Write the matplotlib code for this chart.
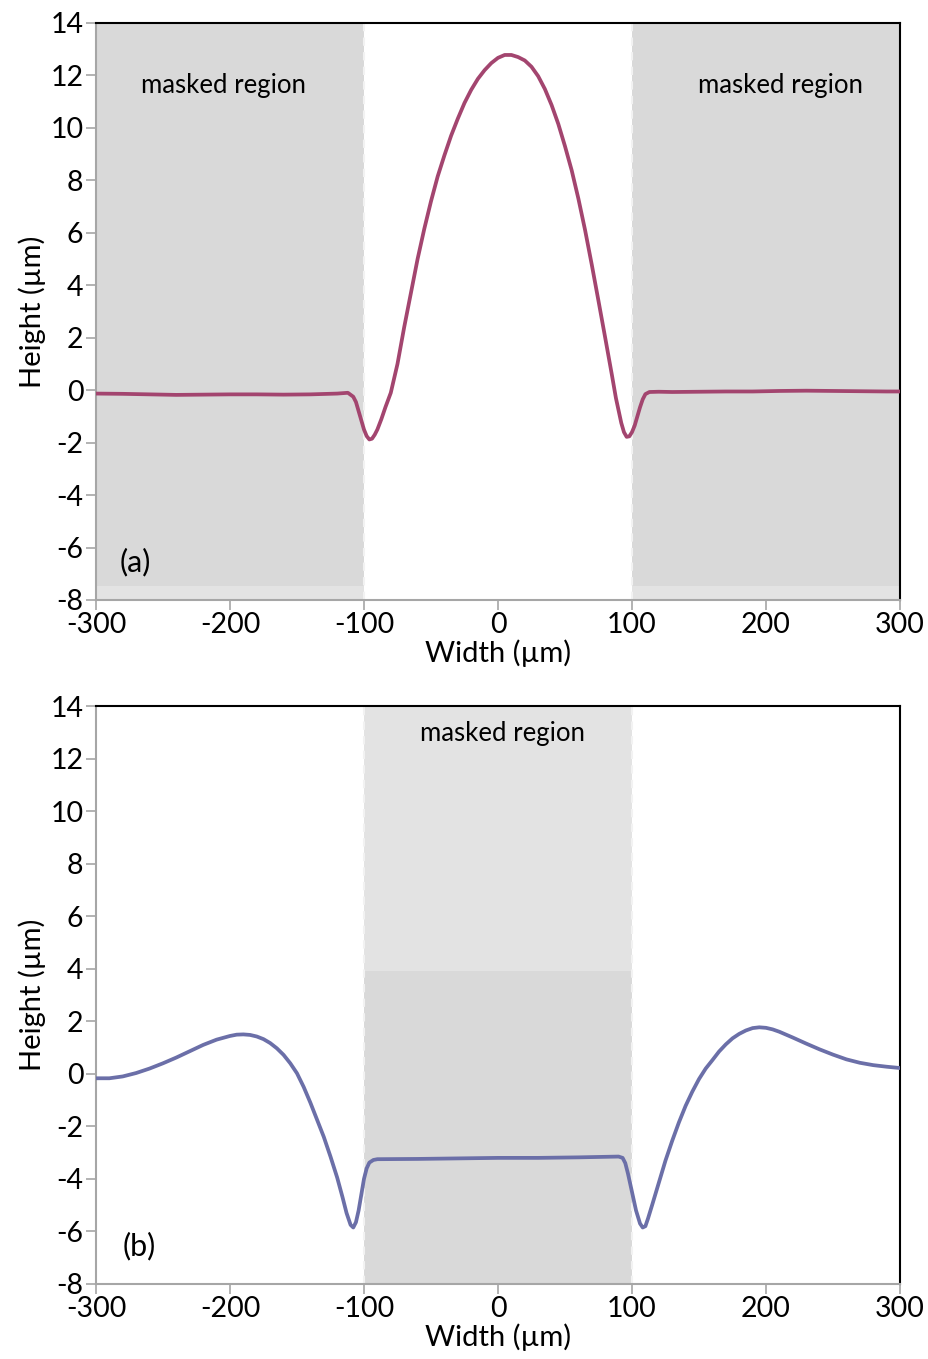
import matplotlib
matplotlib.use("Agg")
import matplotlib.pyplot as plt

plt.rcParams['font.family'] = ['Lato', 'DejaVu Sans']

# ---- data (a) ----
xa = [-300, -280, -260, -240, -220, -200, -180, -160, -140, -120, -112, -108, -106, -104, -102,
      -100, -98, -96, -94, -92, -90, -87, -84, -80, -75, -70, -65, -60, -55, -50, -45, -40, -35,
      -30, -25, -20, -15, -10, -5, 0, 5, 10, 15, 20, 25, 30, 35, 40, 45, 50, 55, 60, 65, 70, 75,
      80, 85, 88, 92, 94, 96, 98, 100, 102, 104, 106, 108, 110, 113, 120, 130, 150, 170, 190,
      210, 230, 250, 270, 290, 300]
ya = [-0.13, -0.14, -0.16, -0.18, -0.17, -0.16, -0.16, -0.17, -0.16, -0.13, -0.10, -0.25, -0.45,
      -0.8, -1.15, -1.5, -1.75, -1.88, -1.85, -1.7, -1.5, -1.1, -0.65, -0.1, 1.0, 2.4, 3.7, 5.0,
      6.15, 7.2, 8.15, 8.95, 9.7, 10.35, 10.95, 11.45, 11.87, 12.2, 12.47, 12.67, 12.78, 12.78,
      12.7, 12.57, 12.33, 11.97, 11.48, 10.87, 10.15, 9.3, 8.38, 7.3, 6.1, 4.78, 3.4, 2.0, 0.58,
      -0.3, -1.25, -1.6, -1.78, -1.76, -1.6, -1.35, -1.0, -0.65, -0.35, -0.15, -0.07, -0.06,
      -0.07, -0.06, -0.05, -0.05, -0.03, -0.02, -0.03, -0.04, -0.05, -0.05]

# ---- data (b) ----
xb = [-300, -290, -280, -270, -260, -250, -240, -230, -220, -210, -200, -195, -190, -185, -180,
      -175, -170, -165, -160, -155, -150, -145, -140, -135, -130, -125, -120, -116, -113, -110,
      -108, -106, -104, -102, -100, -98, -96, -93, -90, -60, -30, 0, 30, 60, 90, 93, 95, 97, 100,
      103, 106, 108, 110, 112, 115, 120, 125, 130, 135, 140, 145, 150, 155, 160, 165, 170, 175,
      180, 185, 190, 195, 200, 205, 210, 220, 230, 240, 250, 260, 270, 280, 290, 300]
yb = [-0.17, -0.17, -0.1, 0.03, 0.2, 0.4, 0.62, 0.86, 1.1, 1.3, 1.44, 1.49, 1.5, 1.48, 1.42,
      1.32, 1.17, 0.97, 0.72, 0.4, 0.02, -0.5, -1.1, -1.75, -2.4, -3.15, -3.95, -4.7, -5.3, -5.75,
      -5.85, -5.65, -5.2, -4.6, -4.0, -3.6, -3.38, -3.28, -3.25, -3.24, -3.22, -3.2, -3.2, -3.18,
      -3.15, -3.2, -3.4, -3.8, -4.5, -5.2, -5.7, -5.85, -5.8, -5.5, -5.0, -4.15, -3.3, -2.55,
      -1.85, -1.22, -0.68, -0.2, 0.2, 0.52, 0.85, 1.12, 1.35, 1.52, 1.65, 1.74, 1.77, 1.75, 1.69,
      1.6, 1.38, 1.15, 0.93, 0.73, 0.55, 0.42, 0.33, 0.27, 0.22]

xticks = [-300, -200, -100, 0, 100, 200, 300]
yticks = [-8, -6, -4, -2, 0, 2, 4, 6, 8, 10, 12, 14]
mask_a = [(-300, -100), (100, 300)]
mask_b = [(-100, 100)]
mask_label = "masked region"

DARK = '#d9d9d9'
LIGHT = '#e3e3e3'
GRAYSPINE = '#a6a6a6'

fig = plt.figure(figsize=(9.29, 13.59), dpi=100)
ax1 = fig.add_axes([0.1033, 0.5585, 0.8655, 0.4246])
ax2 = fig.add_axes([0.1033, 0.0552, 0.8655, 0.4253])


def style(ax):
    ax.set_xlim(-300, 300)
    ax.set_ylim(-8, 14)
    ax.set_xticks(xticks)
    ax.set_yticks(yticks)
    ax.set_xticklabels([str(t) for t in xticks])
    ax.set_yticklabels([str(t) for t in yticks])
    ax.tick_params(direction='out', length=7, width=1.2, color=GRAYSPINE,
                   labelsize=20.5, pad=2)
    for s in ('left', 'bottom'):
        ax.spines[s].set_color(GRAYSPINE)
        ax.spines[s].set_linewidth(1.5)
    for s in ('top', 'right'):
        ax.spines[s].set_color('black')
        ax.spines[s].set_linewidth(1.5)
    ax.set_xlabel('Width (µm)', fontsize=21, labelpad=1)
    ax.set_ylabel('Height (µm)', fontsize=21, labelpad=3)


# panel (a)
for (x0, x1) in mask_a:
    ax1.fill_between([x0, x1], -7.45, 14, color=DARK, lw=0, zorder=0)
    ax1.fill_between([x0, x1], -8, -7.45, color=LIGHT, lw=0, zorder=0)
for xv in (-100, 100):
    ax1.axvline(xv, color='#f2f2f2', lw=1.5, ls=(0, (4, 3)), zorder=1)
ax1.plot(xa, ya, color='#a3456f', lw=2.7, zorder=3, solid_joinstyle='round')
ax1.text(-205, 11.6, mask_label, fontsize=18.5, ha='center', va='center')
ax1.text(211, 11.6, mask_label, fontsize=18.5, ha='center', va='center')
ax1.text(-271, -6.55, '(a)', fontsize=22, ha='center', va='center')
style(ax1)

# panel (b)
for (x0, x1) in mask_b:
    ax2.fill_between([x0, x1], -8, 3.9, color=DARK, lw=0, zorder=0)
    ax2.fill_between([x0, x1], 3.9, 14, color=LIGHT, lw=0, zorder=0)
for xv in (-100, 100):
    ax2.axvline(xv, color='#f2f2f2', lw=1.5, ls=(0, (4, 3)), zorder=1)
ax2.plot(xb, yb, color='#6b6fa8', lw=2.7, zorder=3, solid_joinstyle='round')
ax2.text(3, 12.95, mask_label, fontsize=18.5, ha='center', va='center')
ax2.text(-268, -6.55, '(b)', fontsize=22, ha='center', va='center')
style(ax2)

fig.savefig('out.png', dpi=100)
